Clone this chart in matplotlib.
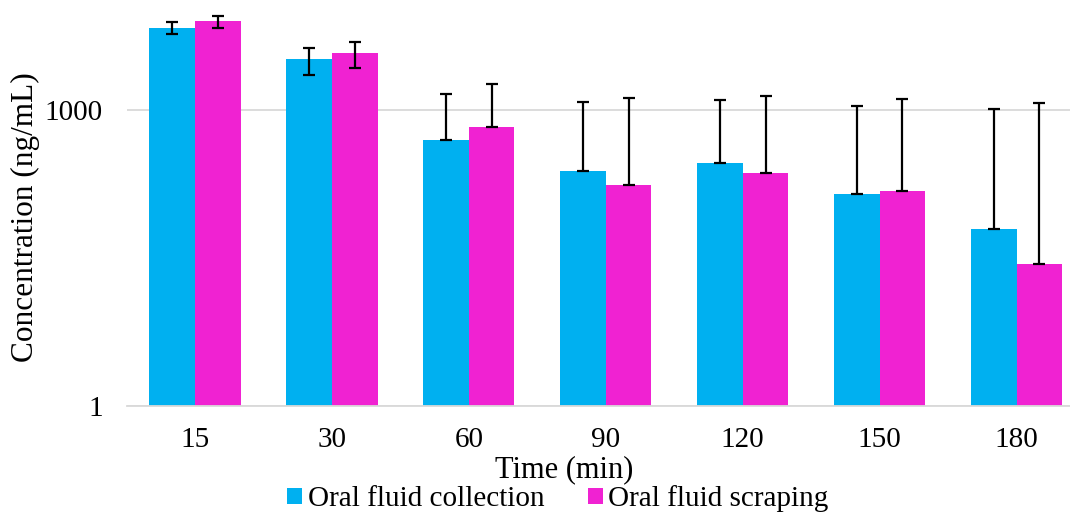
import matplotlib
matplotlib.use("Agg")
import matplotlib.pyplot as plt
import numpy as np
from matplotlib.ticker import FixedLocator, NullLocator, FixedFormatter

plt.rcParams['font.family'] = ['Liberation Serif', 'DejaVu Serif']

categories = ["15", "30", "60", "90", "120", "150", "180"]
collection = [6730, 3270, 493, 241, 288, 141, 62]
scraping = [7980, 3760, 673, 173, 230, 152, 27.5]
collection_err_low = [880, 990, 0, 0, 0, 0, 0]
collection_err_high = [1070, 980, 970, 964, 965, 965, 961]
scraping_err_low = [1140, 1110, 0, 0, 0, 0, 0]
scraping_err_high = [940, 1160, 1163, 1150, 1157, 1140, 1150]
yticks = [1, 1000]
series_names = ["Oral fluid collection", "Oral fluid scraping"]

fig = plt.figure(figsize=(10.70, 5.12), dpi=100)
ax_left, ax_right = 126.6, 1085
ax = fig.add_axes([ax_left/1070, (512-406)/512, (ax_right-ax_left)/1070, (406-11.3)/512])

x = np.arange(len(categories))
w = 0.333
blue = "#00B0F0"
mag = "#F022D2"
ax.bar(x - w/2, collection, w, color=blue, label=series_names[0], zorder=2,
       yerr=[collection_err_low, collection_err_high], capsize=4.5,
       error_kw=dict(elinewidth=1.6, capthick=1.6, ecolor='black'))
ax.bar(x + w/2, scraping, w, color=mag, label=series_names[1], zorder=2,
       yerr=[scraping_err_low, scraping_err_high], capsize=4.5,
       error_kw=dict(elinewidth=1.6, capthick=1.6, ecolor='black'))

ax.set_yscale('log')
ax.set_ylim(1, 10000)
ax.set_xlim(-0.5, len(categories) - 0.5)
ax.yaxis.set_major_locator(FixedLocator(yticks))
ax.yaxis.set_major_formatter(FixedFormatter([str(t) for t in yticks]))
ax.yaxis.set_minor_locator(NullLocator())
ax.grid(axis='y', color='#d9d9d9', linewidth=1.3, zorder=0)
ax.set_axisbelow(True)
for s in ['top', 'right', 'left']:
    ax.spines[s].set_visible(False)
ax.spines['bottom'].set_color('#d9d9d9')
ax.spines['bottom'].set_linewidth(1.3)
ax.tick_params(axis='both', length=0, labelsize=21)
ax.tick_params(axis='x', pad=15)
ax.tick_params(axis='y', pad=17)
ax.set_xticks(x)
ax.set_xticklabels(categories)
ax.set_xlabel("Time (min)", fontsize=22, labelpad=2)
ax.xaxis.label.set_x((564 - ax_left) / (ax_right - ax_left))
ax.set_ylabel("Concentration (ng/mL)", fontsize=22.5)
ax.yaxis.set_label_coords(-(ax_left - 40) / (ax_right - ax_left), (406 - 217) / (406 - 11.3))

fig.legend(loc='center', bbox_to_anchor=(558/1070, 1 - 499/512), ncol=2, frameon=False,
           fontsize=21, handlelength=0.5, handleheight=0.5, handletextpad=0.2,
           columnspacing=1.5, borderpad=0)

fig.savefig("out.png", dpi=100)
